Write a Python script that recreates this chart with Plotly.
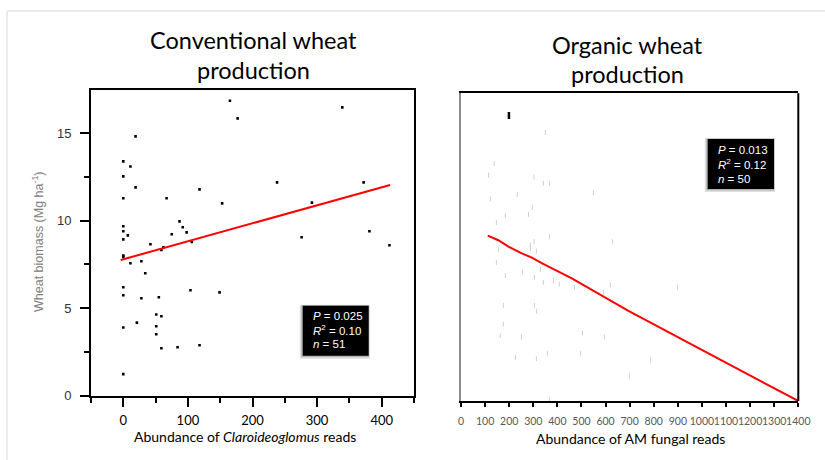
import plotly.graph_objects as go

W, H = 825, 460

# ---------------- data ----------------
conv_x = [165, 177, 339, 19, 0, 11, 0, 19, 0, 67,
          118, 238, 372, 153, 292, 0, 0, 7, 0, 87,
          92, 98, 75, 106, 276, 381, 412, 42, 62, 59,
          0, 0, 11, 28, 34, 0, 0, 28, 55, 104,
          149, 51, 59, 21, 51, 0, 51, 59, 84, 118, 0]
conv_y = [16.86, 15.85, 16.48, 14.82, 13.39, 13.1, 12.53, 11.9, 11.28, 11.28,
          11.79, 12.19, 12.19, 10.99, 11.03, 9.68, 9.39, 9.16, 8.93, 9.96,
          9.62, 9.33, 9.22, 8.78, 9.05, 9.39, 8.59, 8.65, 8.48, 8.32,
          8.0, 7.94, 7.56, 7.68, 6.99, 6.19, 5.73, 5.56, 5.62, 6.02,
          5.9, 4.63, 4.53, 4.17, 3.96, 3.89, 3.5, 2.7, 2.76, 2.87, 1.22]
conv_fit_x = [-4, 413]
conv_fit_y = [7.75, 12.04]

org_x = [350, 138, 114, 303, 342, 367, 550, 234, 122, 296,
         280, 184, 147, 367, 303, 288, 288, 155, 313, 147,
         255, 330, 184, 305, 342, 384, 408, 471, 591, 176,
         305, 313, 176, 163, 251, 504, 595, 226, 313, 359,
         496, 367, 629, 620, 899, 787, 699]
org_y = [15.18, 13.42, 12.77, 12.67, 12.31, 12.31, 11.78, 11.69, 11.42, 10.95,
         10.56, 10.48, 10.1, 9.29, 9.01, 8.82, 8.64, 8.57, 8.48, 7.84,
         7.28, 7.45, 7.09, 7.0, 6.71, 6.8, 6.62, 6.43, 6.15, 5.41,
         5.41, 5.07, 4.34, 3.69, 3.62, 3.85, 3.62, 2.47, 2.39, 2.68,
         2.68, 0.1, 9.01, 6.56, 6.43, 2.32, 1.41]
org_dark_x = [199]
org_dark_y = [16.14]
org_fit_x = [111, 155, 197, 252, 294, 335, 460, 501, 626, 695, 1400]
org_fit_y = [9.35, 9.09, 8.73, 8.35, 8.11, 7.79, 6.94, 6.62, 5.62, 5.09, 0.0]

conv_ticks = [0, 100, 200, 300, 400]
org_ticks = list(range(0, 1401, 100))
biomass_ticks = [0, 5, 10, 15]

conv_stats = ["<i>P</i> = 0.025", "<i>R</i><sup>2</sup> = 0.10", "<i>n</i> = 51"]
org_stats = ["<i>P</i> = 0.013", "<i>R</i><sup>2</sup> = 0.12", "<i>n</i> = 50"]


def px(x):
    return x / W


def py(y):
    return 1 - y / H


fig = go.Figure()

fig.add_trace(go.Scatter(x=conv_x, y=conv_y, mode="markers", xaxis="x", yaxis="y",
                         marker=dict(symbol="square", size=2.6, color="black",
                                     line=dict(width=0)),
                         showlegend=False, hoverinfo="x+y"))
fig.add_trace(go.Scatter(x=conv_fit_x, y=conv_fit_y, mode="lines", xaxis="x", yaxis="y",
                         line=dict(color="#ff0000", width=2), showlegend=False))

fig.add_trace(go.Scatter(x=org_x, y=org_y, mode="markers", xaxis="x2", yaxis="y2",
                         marker=dict(symbol="line-ns", size=3.5, color="#cfcfcf",
                                     line=dict(width=1, color="#cfcfcf")),
                         showlegend=False, hoverinfo="x+y"))
fig.add_trace(go.Scatter(x=org_dark_x, y=org_dark_y, mode="markers", xaxis="x2", yaxis="y2",
                         marker=dict(symbol="line-ns", size=5, color="black",
                                     line=dict(width=2.5, color="black")),
                         showlegend=False, hoverinfo="x+y"))
fig.add_trace(go.Scatter(x=org_fit_x, y=org_fit_y, mode="lines", xaxis="x2", yaxis="y2",
                         line=dict(color="#ff0000", width=2), showlegend=False))

tickfont_cal = dict(family="Lato", size=13, color="black")

fig.update_layout(
    width=W, height=H,
    margin=dict(l=0, r=0, t=0, b=0, autoexpand=False),
    paper_bgcolor="white", plot_bgcolor="white",
    xaxis=dict(domain=[px(91), px(414)], range=[-50, 450], anchor="y",
               showgrid=False, zeroline=False,
               showline=True, linecolor="black", linewidth=2, mirror=True,
               tickmode="array", tickvals=conv_ticks, ticks="outside",
               ticklen=9, tickwidth=2, tickcolor="black",
               minor=dict(tickmode="array", tickvals=[-50, 50, 150, 250, 350, 450],
                          ticks="outside", ticklen=5, tickwidth=2, tickcolor="black"),
               tickfont=tickfont_cal, tickangle=0, ticklabelstandoff=3),
    yaxis=dict(domain=[py(395.5), py(89.5)], range=[0, 17.5], anchor="x",
               showgrid=False, zeroline=False,
               showline=True, linecolor="black", linewidth=2, mirror=True,
               tickmode="array", tickvals=biomass_ticks, ticks="outside",
               ticklen=9, tickwidth=2, tickcolor="black",
               minor=dict(tickmode="array", tickvals=[2.5, 7.5, 12.5],
                          ticks="outside", ticklen=5, tickwidth=2, tickcolor="black"),
               tickfont=dict(family="Liberation Sans", size=13, color="#333333"),
               ticklabelstandoff=6),
    xaxis2=dict(domain=[px(461), px(798.3)], range=[0, 1400], anchor="y2",
                showgrid=False, zeroline=False,
                showline=True, linecolor="black", linewidth=2, mirror=True,
                tickmode="array", tickvals=org_ticks, ticks="outside",
                ticklen=4, tickwidth=1.5, tickcolor="black",
                tickfont=dict(family="Lato", size=10.5, color="#595959"),
                tickangle=0, ticklabelstandoff=5),
    yaxis2=dict(domain=[py(401), py(93.3)], range=[0, 17.4], anchor="x2",
                showgrid=False, zeroline=False,
                showline=True, linecolor="#8c8c8c", linewidth=2, mirror=False,
                showticklabels=False, ticks=""),
)

shapes = []
# faint outer frame
shapes.append(dict(type="line", xref="paper", yref="paper", x0=px(7), x1=1, y0=py(11), y1=py(11),
                   line=dict(color="#e6e6e6", width=1.5)))
shapes.append(dict(type="line", xref="paper", yref="paper", x0=px(7), x1=px(7), y0=py(11), y1=0,
                   line=dict(color="#e6e6e6", width=1.5)))
# right border of organic panel
shapes.append(dict(type="line", xref="x2 domain", yref="y2 domain", x0=1, x1=1, y0=0, y1=1,
                   line=dict(color="black", width=2)))


def stat_box(x0, y0, x1, y1):
    shapes.append(dict(type="rect", xref="paper", yref="paper",
                       x0=px(x0 - 3), x1=px(x1 + 1), y0=py(y1 + 3), y1=py(y0 - 1),
                       fillcolor="rgba(0,0,0,0.12)", line=dict(width=0), layer="above"))
    shapes.append(dict(type="rect", xref="paper", yref="paper",
                       x0=px(x0 - 1.5), x1=px(x1 + 0.5), y0=py(y1 + 1.5), y1=py(y0 - 0.5),
                       fillcolor="rgba(0,0,0,0.2)", line=dict(width=0), layer="above"))
    shapes.append(dict(type="rect", xref="paper", yref="paper",
                       x0=px(x0), x1=px(x1), y0=py(y1), y1=py(y0),
                       fillcolor="black", line=dict(width=0), layer="above"))


stat_box(302.7, 305.7, 368.7, 355.7)
stat_box(707.7, 139, 774, 189)
fig.update_layout(shapes=shapes)

ann = []


def text(x, y, s, size, color="black", family="Lato", xanchor="center", angle=0):
    ann.append(dict(x=px(x), y=py(y), xref="paper", yref="paper", text=s, showarrow=False,
                    font=dict(family=family, size=size, color=color),
                    xanchor=xanchor, yanchor="middle", textangle=angle))


# titles
text(253.5, 40, "Conventional wheat", 23.5)
text(253.5, 70, "production", 23.5)
text(627.5, 45, "Organic wheat", 23.5)
text(627.5, 74, "production", 23.5)

# axis titles
text(245, 436, "Abundance of <i>Claroideoglomus</i> reads", 14)
text(630, 438, "Abundance of AM fungal reads", 14)
text(38, 242, "Wheat biomass (Mg ha<sup>-1</sup>)", 12.5, color="#808080",
     family="Liberation Sans", angle=-90)

# statistics text
for i, s in enumerate(conv_stats):
    text(311, 315.5 + i * 14.4, s, 11.5, color="white", family="Liberation Sans", xanchor="left")
for i, s in enumerate(org_stats):
    text(715.7, 150 + i * 14.4, s, 11.5, color="white", family="Liberation Sans", xanchor="left")

fig.update_layout(annotations=ann)

fig.write_html("out.html", config={"displayModeBar": False},
               post_script="document.body.style.margin='0px';document.body.style.overflow='hidden';")
